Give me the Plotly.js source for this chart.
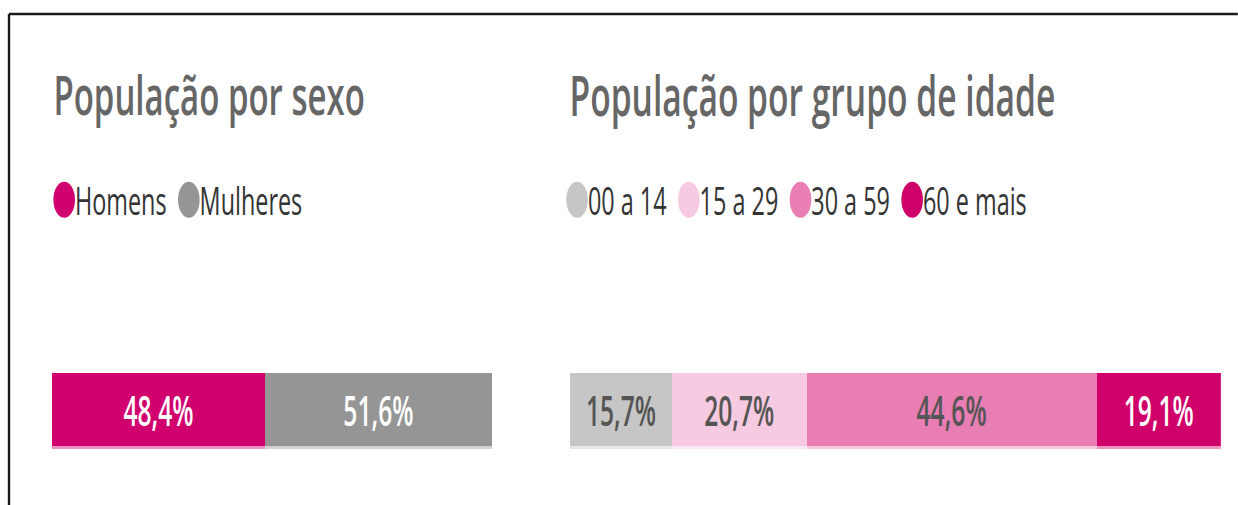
<!DOCTYPE html>
<html>
<head>
<meta charset="utf-8">
<script src="https://cdn.plot.ly/plotly-3.0.1.min.js"></script>
<style>
  html, body { margin: 0; padding: 0; overflow: hidden; background: #ffffff; }
  #wrap { width: 1238px; height: 505px; overflow: hidden; position: relative; }
  #chart { width: 2063px; height: 505px; transform: scaleX(0.6); transform-origin: 0 0; }
</style>
</head>
<body>
<div id="wrap"><div id="chart"></div></div>
<script>
// ---- data ----
const titleSex = 'População por sexo';
const titleAge = 'População por grupo de idade';
const sexCategories = ['Homens', 'Mulheres'];
const sexValues = [48.4, 51.6];
const ageCategories = ['00 a 14', '15 a 29', '30 a 59', '60 e mais'];
const ageValues = [15.7, 20.7, 44.6, 19.1];

// ---- styles ----
const sexColors = ['#D0006F', '#959595'];
const sexLabelColors = ['#ffffff', '#ffffff'];
const ageColors = ['#C6C6C6', '#F6CBE2', '#E87EB3', '#D0006A'];
const ageLabelColors = ['#555555', '#555555', '#555555', '#ffffff'];

const W = 1238, H = 505;
const px = v => v / W;
const py = v => 1 - v / H;
const FONT = 'Open Sans, Noto Sans, sans-serif';

const traces = [];
function fmt(v) { return v.toFixed(1).replace('.', ',') + '%'; }

function addGroup(cats, vals, colors, labelColors, xa, ya, legendId) {
  let cum = 0;
  cats.forEach((c, i) => {
    const base = cum;
    cum += vals[i];
    // light underlay (bottom strip)
    traces.push({
      type: 'bar', orientation: 'h', x: [vals[i]], base: [base], y: [0],
      width: 76, offset: 0, marker: { color: colors[i], opacity: 0.42, line: { width: 0 } },
      xaxis: xa, yaxis: ya, showlegend: false, hoverinfo: 'skip', textposition: 'none'
    });
    // main segment
    traces.push({
      type: 'bar', orientation: 'h', x: [vals[i]], base: [base], y: [0],
      width: 73, offset: 3, marker: { color: colors[i], line: { width: 0 } },
      text: [fmt(vals[i])], textposition: 'inside', insidetextanchor: 'middle',
      textangle: 0, constraintext: 'none',
      textfont: { family: FONT, size: 41, weight: 600, color: labelColors[i] },
      xaxis: xa, yaxis: ya, showlegend: false, hoverinfo: 'skip'
    });
    // legend entry
    traces.push({
      type: 'scatter', mode: 'markers', x: [null], y: [null], name: c,
      marker: { color: colors[i], size: 16 },
      xaxis: xa, yaxis: ya, legend: legendId, showlegend: true, hoverinfo: 'skip'
    });
  });
  return cum;
}

const sexTotal = addGroup(sexCategories, sexValues, sexColors, sexLabelColors, 'x', 'y', 'legend');
const ageTotal = addGroup(ageCategories, ageValues, ageColors, ageLabelColors, 'x2', 'y2', 'legend2');

const hiddenAxis = { showgrid: false, zeroline: false, showticklabels: false, showline: false, ticks: '', fixedrange: true };
const yDomain = [py(449), py(373)];

const legendCommon = {
  orientation: 'h', yanchor: 'middle', xanchor: 'left', y: py(200),
  font: { family: FONT, size: 39, color: '#333333' },
  bgcolor: 'rgba(0,0,0,0)', itemwidth: 40, itemclick: false, itemdoubleclick: false
};

const layout = {
  width: 2063, height: H,
  margin: { l: 0, r: 0, t: 0, b: 0, pad: 0 },
  paper_bgcolor: '#ffffff', plot_bgcolor: 'rgba(0,0,0,0)',
  barmode: 'overlay', bargap: 0,
  xaxis: Object.assign({}, hiddenAxis, { domain: [px(52), px(492)], range: [0, sexTotal] }),
  yaxis: Object.assign({}, hiddenAxis, { domain: yDomain, range: [0, 76], anchor: 'x' }),
  xaxis2: Object.assign({}, hiddenAxis, { domain: [px(570), px(1221)], range: [0, ageTotal], anchor: 'y2' }),
  yaxis2: Object.assign({}, hiddenAxis, { domain: yDomain, range: [0, 76], anchor: 'x2' }),
  legend: Object.assign({}, legendCommon, { x: px(45) }),
  legend2: Object.assign({}, legendCommon, { x: px(558) }),
  annotations: [
    { text: titleSex, xref: 'paper', yref: 'paper', x: px(52), y: py(94), xanchor: 'left', yanchor: 'middle',
      showarrow: false, font: { family: FONT, size: 55, weight: 600, color: '#666666' } },
    { text: titleAge, xref: 'paper', yref: 'paper', x: px(568), y: py(94), xanchor: 'left', yanchor: 'middle',
      showarrow: false, font: { family: FONT, size: 56, weight: 600, color: '#666666' } }
  ],
  shapes: [
    { type: 'line', xref: 'paper', yref: 'paper', x0: px(9), x1: 1.2, y0: py(14), y1: py(14),
      line: { color: '#1a1a1a', width: 2.5 } },
    { type: 'line', xref: 'paper', yref: 'paper', x0: px(9), x1: px(9), y0: py(14), y1: -0.2,
      line: { color: '#1a1a1a', width: 4 } }
  ],
  showlegend: true
};

Plotly.newPlot('chart', traces, layout, { staticPlot: true, displayModeBar: false }).then(function (gd) {
  gd.querySelectorAll('.legendpoints path.scatterpts').forEach(function (p) {
    const t = p.getAttribute('transform') || '';
    p.setAttribute('transform', 'translate(7,0) ' + t + ' scale(2.25)');
  });
});
</script>
</body>
</html>
